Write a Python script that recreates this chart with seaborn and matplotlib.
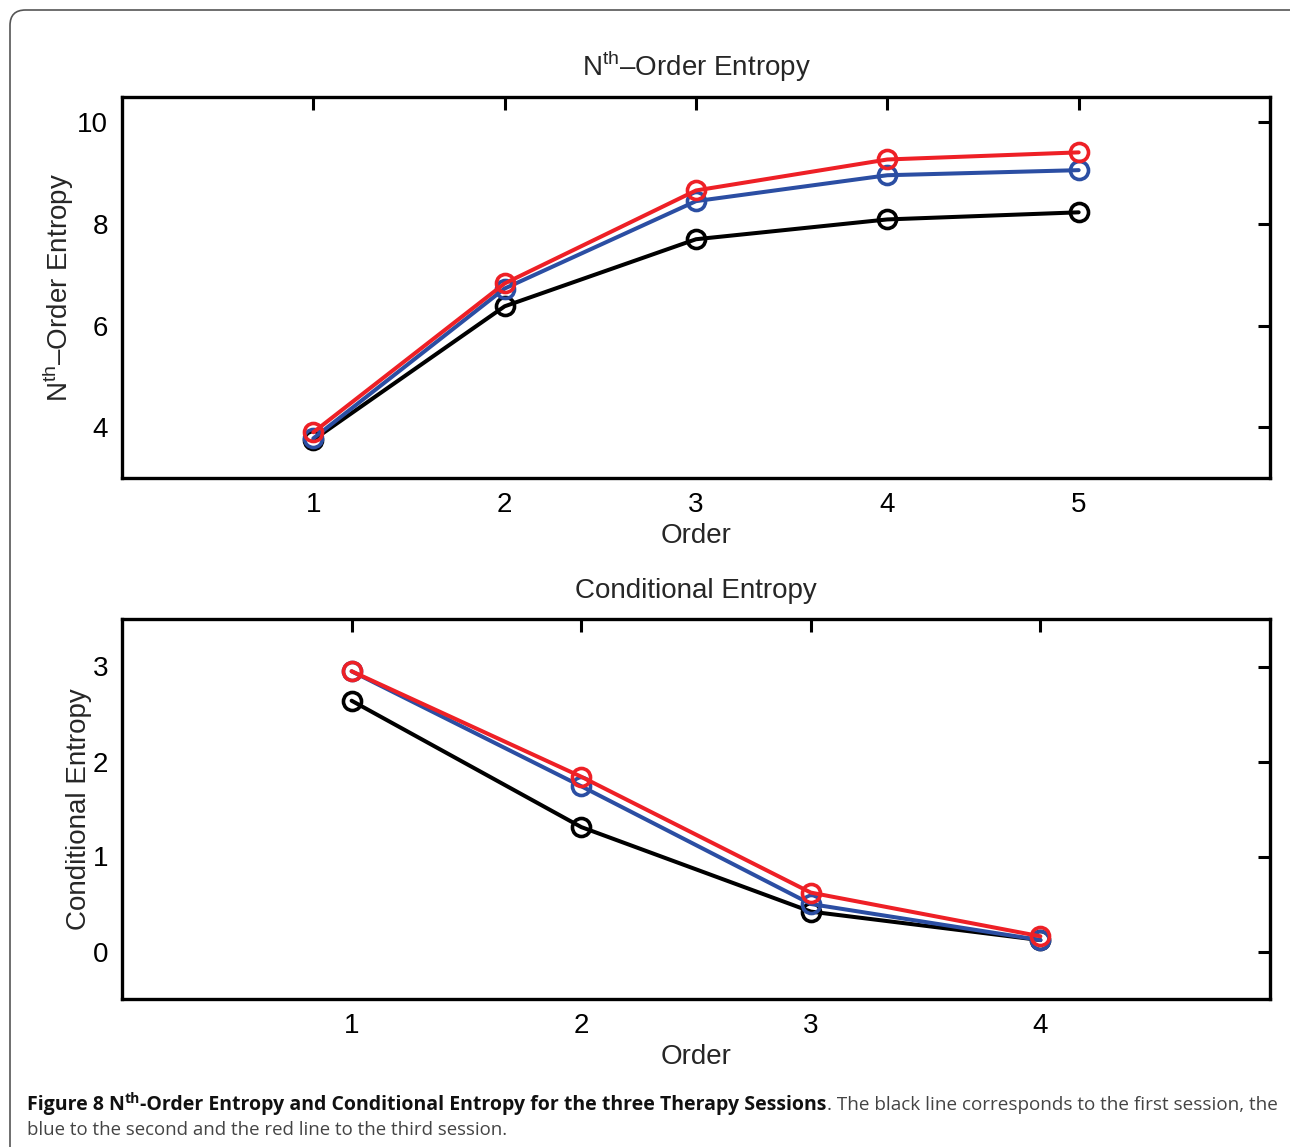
import numpy as np
import pandas as pd
import seaborn as sns
import matplotlib.pyplot as plt
from matplotlib.patches import FancyBboxPatch

# values
orders_nth = [1, 2, 3, 4, 5]
nth_s1 = [3.75, 6.38, 7.70, 8.09, 8.23]
nth_s2 = [3.78, 6.73, 8.45, 8.96, 9.06]
nth_s3 = [3.90, 6.83, 8.66, 9.27, 9.41]

orders_cond = [1, 2, 3, 4]
cond_s1 = [2.64, 1.31, 0.42, 0.12]
cond_s2 = [2.95, 1.74, 0.50, 0.12]
cond_s3 = [2.95, 1.84, 0.62, 0.16]

sessions = ["first", "second", "third"]
colors = {"first": "#000000", "second": "#2b4ea3", "third": "#ee2026"}


def to_long(orders, series):
    parts = []
    for name, vals in zip(sessions, series):
        parts.append(pd.DataFrame({"Order": orders, "Value": vals, "Session": name}))
    return pd.concat(parts, ignore_index=True)


d_nth = to_long(orders_nth, [nth_s1, nth_s2, nth_s3])
d_cond = to_long(orders_cond, [cond_s1, cond_s2, cond_s3])

sns.set_style("white")
plt.rcParams["font.family"] = ["Liberation Sans", "DejaVu Sans"]
plt.rcParams["mathtext.fontset"] = "custom"
plt.rcParams["mathtext.rm"] = "Liberation Sans"

W, H = 1290, 1147
fig = plt.figure(figsize=(W / 100, H / 100), dpi=100)

# rounded frame around the figure panel
frame = FancyBboxPatch((10 / W, -0.05), 1.05, 1 - 10 / H + 0.05,
                       boxstyle="round,pad=0,rounding_size=0.012",
                       transform=fig.transFigure, fill=False,
                       edgecolor="#555555", linewidth=1.2, mutation_aspect=W / H)
fig.patches.append(frame)

ax1 = fig.add_axes([122 / W, 1 - 478 / H, 1148 / W, 381 / H])
ax2 = fig.add_axes([122 / W, 1 - 999 / H, 1148 / W, 380 / H])


def draw(ax, data, xlim, ylim, yticks, xticks, title, ylabel):
    for s in sessions:
        sns.lineplot(data=data[data["Session"] == s], x="Order", y="Value",
                     color=colors[s], marker="o", markersize=13,
                     markerfacecolor="none", markeredgecolor=colors[s],
                     markeredgewidth=2.6, linewidth=2.9, ax=ax, legend=False)
    ax.set_xlim(xlim)
    ax.set_ylim(ylim)
    ax.set_xticks(xticks)
    ax.set_yticks(yticks)
    ax.tick_params(direction="in", length=9, width=2.2, top=True, right=True,
                   labelsize=20, pad=10, colors="black")
    for sp in ax.spines.values():
        sp.set_linewidth(2.4)
        sp.set_color("black")
        sp.set_visible(True)
    ax.set_xlabel("Order", fontsize=20, labelpad=4)
    ax.set_ylabel(ylabel, fontsize=20, labelpad=0)
    ax.set_title(title, fontsize=20, pad=15)


draw(ax1, d_nth, (0, 6), (3, 10.5), [4, 6, 8, 10], orders_nth,
     r"N$^{\mathrm{th}}$–Order Entropy", r"N$^{\mathrm{th}}$–Order Entropy")
draw(ax2, d_cond, (0, 5), (-0.5, 3.5), [0, 1, 2, 3], orders_cond,
     "Conditional Entropy", "Conditional Entropy")
ax1.yaxis.set_label_coords(-46 / 1148, 0.5)
ax2.yaxis.set_label_coords(-30 / 1148, 0.5)

# caption, bold part followed by regular part
cap_font = ["Open Sans", "DejaVu Sans"]
fig.canvas.draw()
r = fig.canvas.get_renderer()
x0, x1 = 27, 1278
pieces = [("Figure 8 N", "bold", 0), ("th", "bold", 7),
          ("-Order Entropy and Conditional Entropy for the three Therapy Sessions", "bold", 0)]
x = x0
for txt, wt, rise in pieces:
    size = 10 if rise else 14
    t = fig.text(x / W, 1 - (1110 - rise) / H, txt, fontsize=size, fontweight=wt,
                 family=cap_font, color="#111111", ha="left", va="baseline")
    x += t.get_window_extent(r).width
rest = ". The black line corresponds to the first session, the"
t = fig.text(x / W, 1 - 1110 / H, rest, fontsize=14, family=cap_font,
             color="#444444", ha="left", va="baseline")
w = t.get_window_extent(r).width
t.set_fontsize(14 * (x1 - x) / w)
fig.text(x0 / W, 1 - 1135 / H, "blue to the second and the red line to the third session.",
         fontsize=13.4, family=cap_font, color="#444444", ha="left", va="baseline")

fig.savefig("out.png", dpi=100)
